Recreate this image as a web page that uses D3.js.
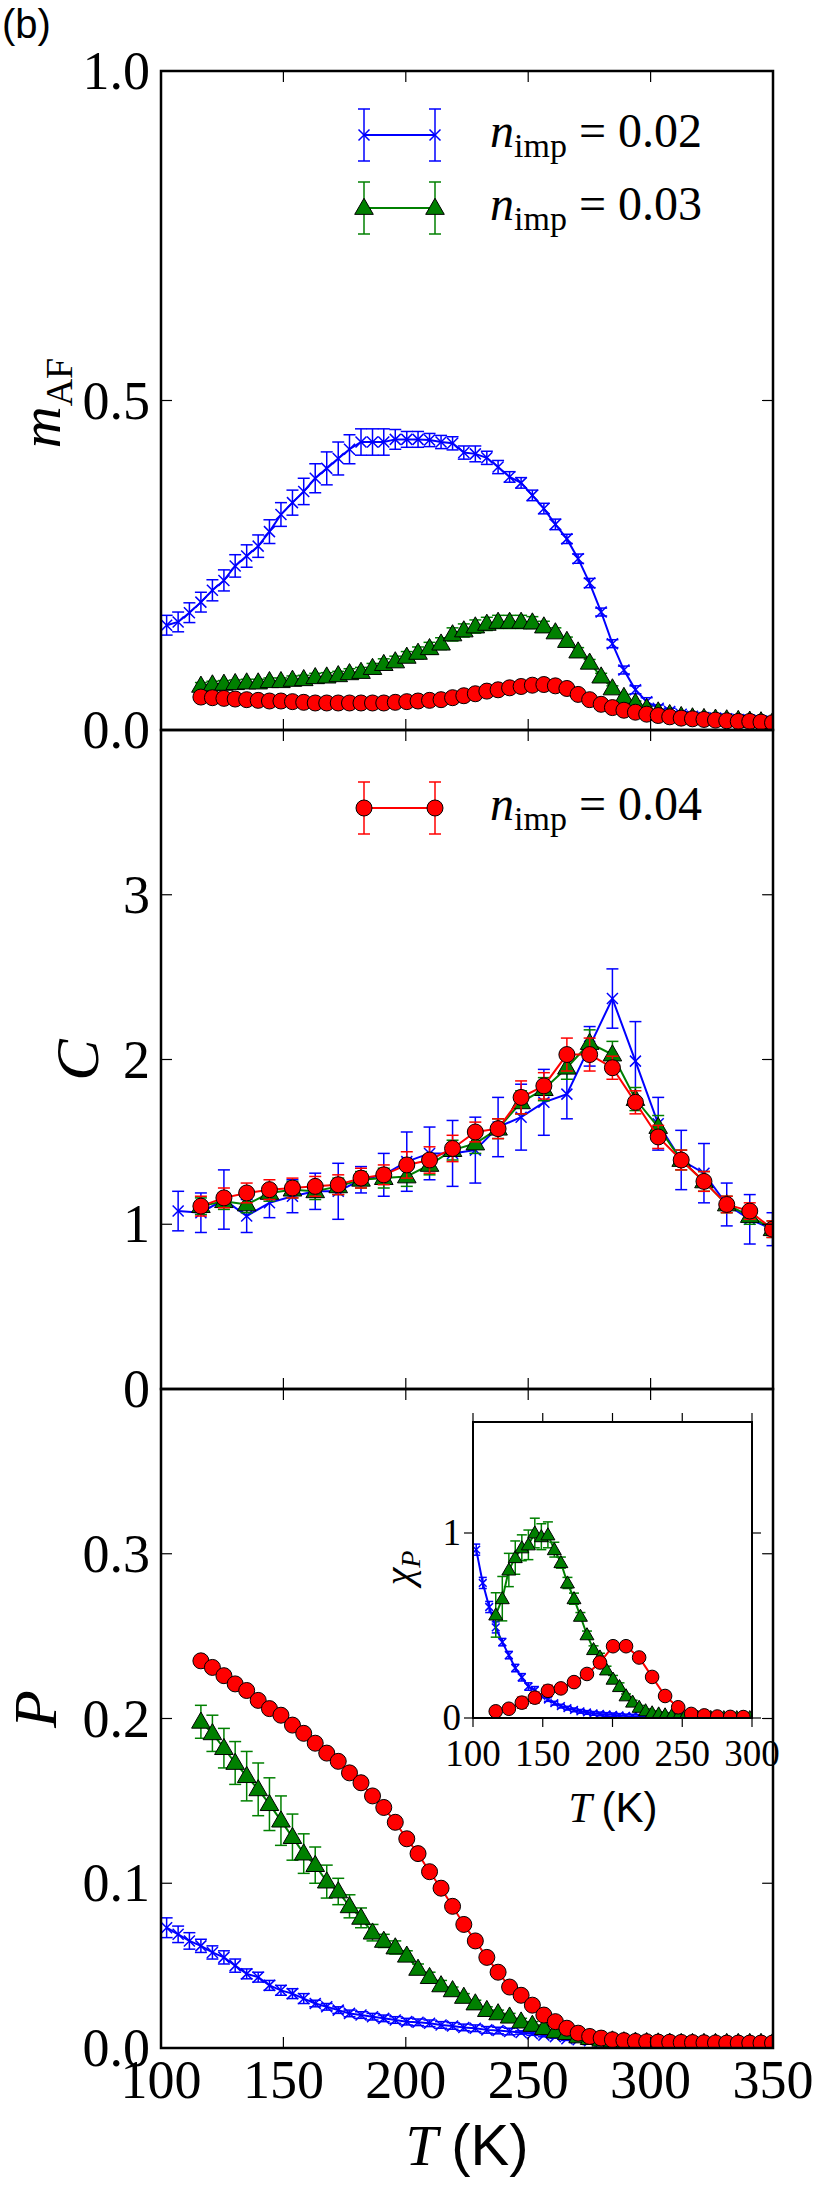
<!DOCTYPE html>
<html>
<head>
<meta charset="utf-8">
<script src="https://cdn.jsdelivr.net/npm/d3@7"></script>
<style>
  body { margin: 0; background: #fff; }
  text { font-family: "Liberation Serif", serif; }
</style>
</head>
<body>
<div class="chart"></div>
<script>
// temperatures (K)
var tGrid = [102.3,107.0,111.6,116.3,121.0,125.7,130.3,135.0,139.7,144.3,149.0,153.7,158.3,163.0,167.7,172.4,177.0,181.7,186.4,191.0,195.7,200.4,205.0,209.7,214.4,219.1,223.7,228.4,233.1,237.7,242.4,247.1,251.7,256.4,261.1,265.8,270.4,275.1,279.8,284.4,289.1,293.8,298.4,303.1,307.8,312.5,317.1,321.8,326.5,331.1,335.8,340.5,345.1,349.8];
var tC = [107.0,116.3,125.7,135.0,144.3,153.7,163.0,172.4,181.7,191.0,200.4,209.7,219.1,228.4,237.7,247.1,256.4,265.8,275.1,284.4,293.8,303.1,312.5,321.8,331.1,340.5,349.8];

// m_AF
var mBlue = [0.159,0.164,0.178,0.194,0.212,0.227,0.249,0.264,0.279,0.301,0.327,0.345,0.362,0.382,0.397,0.412,0.426,0.437,0.437,0.437,0.441,0.441,0.441,0.440,0.437,0.435,0.421,0.419,0.413,0.399,0.384,0.375,0.356,0.336,0.312,0.290,0.260,0.223,0.179,0.131,0.091,0.061,0.043,0.033,0.028,0.024,0.021,0.019,0.018,0.017,0.016,0.015,0.014,0.013];
var mBlueErr = [0.015,0.015,0.015,0.015,0.016,0.016,0.017,0.017,0.017,0.018,0.018,0.019,0.02,0.022,0.025,0.025,0.022,0.02,0.02,0.02,0.015,0.012,0.012,0.01,0.01,0.01,0.01,0.012,0.01,0.01,0.008,0.008,0.008,0.008,0.008,0.007,0.007,0.007,0.006,0.006,0.006,0.006,0.006,0.005,0.005,0.004,0.004,0.003,0.003,0.003,0.003,0.003,0.003,0.003];
var mGreen = [0.067,0.069,0.070,0.071,0.072,0.072,0.074,0.074,0.076,0.077,0.080,0.081,0.083,0.086,0.088,0.094,0.100,0.104,0.111,0.117,0.124,0.131,0.145,0.151,0.157,0.161,0.164,0.164,0.164,0.163,0.157,0.148,0.135,0.119,0.102,0.081,0.063,0.050,0.041,0.033,0.028,0.024,0.021,0.019,0.018,0.017,0.016,0.015,0.014,0.013,0.012];
var mGreenErr = [0.005,0.005,0.005,0.005,0.005,0.005,0.005,0.005,0.006,0.006,0.006,0.006,0.006,0.007,0.007,0.007,0.008,0.008,0.008,0.009,0.009,0.009,0.01,0.01,0.01,0.01,0.01,0.01,0.01,0.009,0.008,0.007,0.006,0.006,0.005,0.005,0.004,0.004,0.003,0.003,0.003,0.003,0.003,0.003,0.003,0.002,0.002,0.002,0.002,0.002,0.002];
var mRed = [0.050,0.049,0.048,0.047,0.046,0.045,0.044,0.044,0.043,0.042,0.041,0.041,0.041,0.041,0.041,0.041,0.041,0.042,0.043,0.044,0.045,0.046,0.049,0.052,0.055,0.059,0.061,0.064,0.066,0.068,0.069,0.067,0.063,0.054,0.046,0.039,0.034,0.030,0.027,0.024,0.022,0.020,0.018,0.017,0.016,0.015,0.014,0.013,0.013,0.012,0.011];
var mRedErr = [0.003,0.003,0.003,0.003,0.003,0.003,0.003,0.003,0.003,0.003,0.003,0.003,0.003,0.003,0.003,0.003,0.003,0.003,0.003,0.003,0.003,0.003,0.003,0.003,0.003,0.003,0.003,0.003,0.003,0.003,0.003,0.003,0.003,0.003,0.003,0.003,0.003,0.003,0.003,0.003,0.003,0.003,0.003,0.003,0.003,0.003,0.003,0.003,0.003,0.003,0.003];

// C
var cBlue = [1.08,1.07,1.15,1.05,1.13,1.17,1.20,1.20,1.27,1.30,1.38,1.43,1.43,1.45,1.59,1.65,1.74,1.79,2.08,2.37,1.99,1.61,1.39,1.31,1.12,1.03,0.97];
var cBlueErr = [0.12,0.12,0.18,0.10,0.09,0.10,0.11,0.17,0.08,0.13,0.18,0.16,0.20,0.20,0.18,0.20,0.20,0.15,0.12,0.18,0.24,0.16,0.18,0.18,0.13,0.15,0.10];
var cGreen = [1.11,1.14,1.12,1.19,1.21,1.20,1.23,1.27,1.28,1.29,1.36,1.45,1.49,1.58,1.74,1.82,1.95,2.10,2.03,1.76,1.59,1.39,1.26,1.12,1.05,0.97];
var cGreenErr = [0.05,0.05,0.05,0.05,0.05,0.05,0.05,0.05,0.06,0.06,0.06,0.06,0.06,0.06,0.07,0.07,0.07,0.08,0.08,0.07,0.07,0.06,0.06,0.05,0.05,0.05];
var cRed = [1.11,1.16,1.19,1.21,1.22,1.23,1.24,1.28,1.30,1.36,1.39,1.46,1.56,1.58,1.77,1.84,2.03,2.03,1.95,1.74,1.53,1.39,1.26,1.12,1.08,0.97];
var cRedErr = [0.06,0.06,0.06,0.06,0.06,0.06,0.06,0.06,0.06,0.08,0.08,0.08,0.06,0.06,0.1,0.08,0.1,0.1,0.07,0.07,0.07,0.06,0.06,0.05,0.05,0.05];

// P
var pBlue = [0.073,0.069,0.065,0.062,0.058,0.055,0.050,0.045,0.043,0.038,0.035,0.033,0.030,0.027,0.025,0.023,0.021,0.020,0.019,0.018,0.017,0.016,0.0156,0.015,0.014,0.0134,0.0125,0.012,0.011,0.0106,0.010,0.0094,0.0087,0.0078,0.0069,0.0056,0.005,0.0044,0.004,0.004,0.0038,0.0036,0.0035,0.0034,0.0033,0.0032,0.0031,0.003,0.003,0.003,0.003,0.003,0.003,0.003];
var pBlueErr = [0.006,0.005,0.005,0.004,0.004,0.004,0.004,0.003,0.003,0.003,0.003,0.003,0.003,0.002,0.002,0.002,0.002,0.002,0.002,0.002,0.002,0.002,0.002,0.002,0.002,0.002,0.002,0.002,0.002,0.002,0.002,0.001,0.001,0.001,0.001,0.001,0.001,0.001,0.001,0.001,0.001,0.001,0.001,0.001,0.001,0.001,0.001,0.001,0.001,0.001,0.001,0.001,0.001,0.001];
var pGreen = [0.198,0.191,0.182,0.173,0.165,0.157,0.148,0.138,0.128,0.118,0.111,0.101,0.095,0.086,0.079,0.070,0.065,0.061,0.056,0.048,0.043,0.038,0.035,0.031,0.027,0.023,0.021,0.019,0.016,0.014,0.012,0.010,0.009,0.007,0.006,0.005,0.0045,0.004,0.0038,0.0035,0.0033,0.0032,0.003,0.003,0.003,0.003,0.003,0.003,0.003,0.003,0.003];
var pGreenErr = [0.010,0.011,0.012,0.013,0.015,0.016,0.016,0.015,0.014,0.012,0.011,0.010,0.008,0.007,0.006,0.005,0.004,0.004,0.003,0.003,0.003,0.003,0.002,0.002,0.002,0.002,0.002,0.002,0.002,0.002,0.002,0.001,0.001,0.001,0.001,0.001,0.001,0.001,0.001,0.001,0.001,0.001,0.001,0.001,0.001,0.001,0.001,0.001,0.001,0.001,0.001];
var pRed = [0.235,0.231,0.226,0.221,0.217,0.211,0.206,0.202,0.196,0.191,0.185,0.179,0.174,0.167,0.161,0.153,0.146,0.137,0.127,0.118,0.107,0.097,0.086,0.075,0.065,0.055,0.046,0.037,0.032,0.026,0.020,0.016,0.012,0.009,0.007,0.006,0.005,0.0045,0.004,0.0038,0.0036,0.0035,0.0034,0.0033,0.0032,0.0031,0.003,0.003,0.003,0.003,0.003];
var pRedErr = [0.002,0.002,0.002,0.002,0.002,0.002,0.002,0.002,0.002,0.002,0.002,0.002,0.002,0.002,0.002,0.002,0.002,0.003,0.003,0.003,0.003,0.003,0.003,0.003,0.003,0.003,0.002,0.002,0.002,0.002,0.002,0.002,0.001,0.001,0.001,0.001,0.001,0.001,0.001,0.001,0.001,0.001,0.001,0.001,0.001,0.001,0.001,0.001,0.001,0.001,0.001];

// chi_P (inset)
var xBlue = [0.91,0.73,0.60,0.49,0.41,0.34,0.27,0.22,0.17,0.15,0.12,0.10,0.08,0.064,0.053,0.044,0.036,0.030,0.025,0.022,0.019,0.017,0.014,0.011,0.010,0.009,0.008,0.008,0.007,0.007,0.006,0.006,0.005,0.005,0.005,0.004,0.004,0.004,0.004,0.003,0.003,0.003,0.003];
var xBlueErr = [0.03,0.03,0.03,0.03,0.02,0.02,0.02,0.02,0.02,0.02,0.01,0.01,0.01,0.01,0.01,0.01,0.01,0.01,0.01,0.01,0.01,0.01,0.01,0.01,0.01,0.01,0.01,0.01,0.01,0.01,0.01,0.01,0.01,0.01,0.01,0.01,0.01,0.01,0.01,0.01,0.01,0.01,0.01];
var xGreen = [0.557,0.645,0.80,0.867,0.92,0.936,1.0,0.98,0.99,0.91,0.84,0.73,0.645,0.55,0.45,0.37,0.33,0.26,0.21,0.17,0.12,0.086,0.058,0.039,0.028,0.022,0.017,0.012,0.009,0.007,0.005,0.004,0.003,0.003,0.002,0.002,0.002,0.002,0.002,0.002];
var xGreenErr = [0.12,0.12,0.09,0.09,0.07,0.08,0.08,0.07,0.07,0.04,0.03,0.03,0.03,0.02,0.02,0.02,0.02,0.02,0.02,0.02,0.01,0.01,0.01,0.01,0.01,0.01,0.01,0.01,0.01,0.01,0.01,0.01,0.01,0.01,0.01,0.01,0.01,0.01,0.01,0.01];
var xRed = [0.036,0.05,0.083,0.11,0.147,0.16,0.194,0.238,0.30,0.388,0.388,0.327,0.222,0.119,0.058,0.022,0.014,0.008,0.006,0.005];
var xRedErr = [0.02,0.02,0.03,0.03,0.03,0.02,0.02,0.02,0.02,0.02,0.02,0.02,0.02,0.02,0.02,0.01,0.01,0.01,0.01,0.01];

var W = 830, H = 2195;
var L = 161, R = 773;
var panels = [
  { top: 71, bot: 730, dom: [0, 1], ticks: [0, 0.5, 1.0], fmt: d3.format(".1f"), id: "p1" },
  { top: 730, bot: 1389, dom: [0, 4], ticks: [0, 1, 2, 3], fmt: d3.format("d"), id: "p2" },
  { top: 1389, bot: 2048, dom: [0, 0.4], ticks: [0, 0.1, 0.2, 0.3], fmt: d3.format(".1f"), id: "p3" }
];

var svg = d3.select(".chart").append("svg").attr("width", W).attr("height", H);
var defs = svg.append("defs");

var styles = {
  blue: { color: "#0000ff", marker: "x" },
  green: { color: "#008000", marker: "tri" },
  red: { color: "#ff0000", marker: "circle" }
};

function marker(g, type, color, cx, cy, s) {
  s = s || 1;
  if (type === "x") {
    var a = 5.5 * s;
    g.append("path").attr("d", "M" + (cx - a) + "," + (cy - a) + "L" + (cx + a) + "," + (cy + a) + "M" + (cx - a) + "," + (cy + a) + "L" + (cx + a) + "," + (cy - a))
      .attr("stroke", color).attr("stroke-width", 1.5).attr("fill", "none");
  } else if (type === "tri") {
    g.append("path").attr("d", d3.symbol(d3.symbolTriangle, 150 * s * s)())
      .attr("transform", "translate(" + cx + "," + (cy + 1) + ")")
      .attr("fill", color).attr("stroke", "#000").attr("stroke-width", 1);
  } else {
    g.append("circle").attr("cx", cx).attr("cy", cy).attr("r", 8 * s)
      .attr("fill", color).attr("stroke", "#000").attr("stroke-width", 1);
  }
}

function series(g, x, y, T, V, E, st, s, cap) {
  s = s || 1; cap = cap || 6;
  var c = styles[st].color;
  T.forEach(function(t, i) {
    var px = x(t);
    g.append("line").attr("x1", px).attr("x2", px).attr("y1", y(V[i] - E[i])).attr("y2", y(V[i] + E[i]))
      .attr("stroke", c).attr("stroke-width", 1.5);
    [V[i] - E[i], V[i] + E[i]].forEach(function(v) {
      g.append("line").attr("x1", px - cap).attr("x2", px + cap).attr("y1", y(v)).attr("y2", y(v))
        .attr("stroke", c).attr("stroke-width", 1.5);
    });
  });
  g.append("path").datum(T.map(function(t, i) { return [t, V[i]]; }))
    .attr("d", d3.line().x(function(d) { return x(d[0]); }).y(function(d) { return y(d[1]); }))
    .attr("fill", "none").attr("stroke", c).attr("stroke-width", 2);
  T.forEach(function(t, i) { marker(g, styles[st].marker, c, x(t), y(V[i]), s); });
}

var x = d3.scaleLinear().domain([100, 350]).range([L, R]);
var xTicks = [100, 150, 200, 250, 300, 350];

var ys = panels.map(function(p) {
  var y = d3.scaleLinear().domain(p.dom).range([p.bot, p.top]);
  defs.append("clipPath").attr("id", "clip-" + p.id).append("rect")
    .attr("x", L).attr("y", p.top).attr("width", R - L).attr("height", p.bot - p.top);
  p.g = svg.append("g").attr("clip-path", "url(#clip-" + p.id + ")");
  p.y = y;
  return y;
});

series(panels[0].g, x, ys[0], tGrid, mBlue, mBlueErr, "blue");
series(panels[0].g, x, ys[0], tGrid.slice(3), mGreen, mGreenErr, "green");
series(panels[0].g, x, ys[0], tGrid.slice(3), mRed, mRedErr, "red");
series(panels[1].g, x, ys[1], tC, cBlue, cBlueErr, "blue");
series(panels[1].g, x, ys[1], tC.slice(1), cGreen, cGreenErr, "green");
series(panels[1].g, x, ys[1], tC.slice(1), cRed, cRedErr, "red");
series(panels[2].g, x, ys[2], tGrid, pBlue, pBlueErr, "blue");
series(panels[2].g, x, ys[2], tGrid.slice(3), pGreen, pGreenErr, "green");
series(panels[2].g, x, ys[2], tGrid.slice(3), pRed, pRedErr, "red");

// frames, ticks, labels
panels.forEach(function(p) {
  var y = p.y;
  var ax = svg.append("g");
  xTicks.forEach(function(t) {
    ax.append("line").attr("x1", x(t)).attr("x2", x(t)).attr("y1", p.bot).attr("y2", p.bot - 11).attr("stroke", "#000").attr("stroke-width", 1.2);
    ax.append("line").attr("x1", x(t)).attr("x2", x(t)).attr("y1", p.top).attr("y2", p.top + 11).attr("stroke", "#000").attr("stroke-width", 1.2);
  });
  p.ticks.forEach(function(v) {
    ax.append("line").attr("x1", L).attr("x2", L + 11).attr("y1", y(v)).attr("y2", y(v)).attr("stroke", "#000").attr("stroke-width", 1.2);
    ax.append("line").attr("x1", R).attr("x2", R - 11).attr("y1", y(v)).attr("y2", y(v)).attr("stroke", "#000").attr("stroke-width", 1.2);
    ax.append("text").attr("x", 150).attr("y", y(v) + 18).attr("text-anchor", "end")
      .style("font-size", "54px").text(p.fmt(v));
  });
  ax.append("rect").attr("x", L).attr("y", p.top).attr("width", R - L).attr("height", p.bot - p.top)
    .attr("fill", "none").attr("stroke", "#000").attr("stroke-width", 2.5);
});

xTicks.forEach(function(t) {
  svg.append("text").attr("x", x(t)).attr("y", 2098).attr("text-anchor", "middle")
    .style("font-size", "54px").text(t);
});

function tLabel(g, cx, cy, size) {
  var t = g.append("text").attr("x", cx).attr("y", cy).attr("text-anchor", "middle").style("font-size", size + "px");
  t.append("tspan").style("font-style", "italic").text("T ");
  t.append("tspan").style("font-family", "Liberation Sans, sans-serif").text("(K)");
}
tLabel(svg, 467, 2165, 58);

// y labels
function ylab(cx, cy, size, parts) {
  var t = svg.append("text").attr("transform", "translate(" + cx + "," + cy + ") rotate(-90)")
    .attr("text-anchor", "middle").style("font-size", size + "px");
  parts(t);
}
ylab(60, 403, 58, function(t) {
  t.append("tspan").style("font-style", "italic").text("m");
  t.append("tspan").attr("dy", 12).style("font-size", "38px").text("AF");
});
ylab(98, 1060, 62, function(t) { t.append("tspan").style("font-style", "italic").text("C"); });
ylab(56, 1709, 62, function(t) { t.append("tspan").style("font-style", "italic").text("P"); });

svg.append("text").attr("x", 2).attr("y", 38).style("font-family", "Liberation Sans, sans-serif")
  .style("font-size", "40px").text("(b)");

// legends
function legendEntry(y0, st) {
  var c = styles[st].color;
  var g = svg.append("g");
  g.append("line").attr("x1", 364).attr("x2", 435).attr("y1", y0).attr("y2", y0).attr("stroke", c).attr("stroke-width", 2);
  [364, 435].forEach(function(px) {
    g.append("line").attr("x1", px).attr("x2", px).attr("y1", y0 - 26).attr("y2", y0 + 26).attr("stroke", c).attr("stroke-width", 1.5);
    [y0 - 26, y0 + 26].forEach(function(py) {
      g.append("line").attr("x1", px - 6).attr("x2", px + 6).attr("y1", py).attr("y2", py).attr("stroke", c).attr("stroke-width", 1.5);
    });
    marker(g, styles[st].marker, c, px, y0, 1);
  });
}
function legendText(y0, val) {
  var t = svg.append("text").attr("x", 490).attr("y", y0 + 12).style("font-size", "48px");
  t.append("tspan").style("font-style", "italic").text("n");
  t.append("tspan").attr("dy", 10).style("font-size", "34px").text("imp");
  t.append("tspan").attr("dy", -10).text(" = " + val);
}
legendEntry(135, "blue"); legendText(135, "0.02");
legendEntry(208, "green"); legendText(208, "0.03");
legendEntry(808, "red"); legendText(808, "0.04");

// inset
var iL = 473, iR = 752, iT = 1422, iB = 1718;
var xi = d3.scaleLinear().domain([100, 300]).range([iL, iR]);
var yi = d3.scaleLinear().domain([0, 1.6]).range([iB, iT]);
svg.append("rect").attr("x", iL).attr("y", iT).attr("width", iR - iL).attr("height", iB - iT).attr("fill", "#fff");
defs.append("clipPath").attr("id", "clip-in").append("rect").attr("x", iL).attr("y", iT).attr("width", iR - iL).attr("height", iB - iT);
var ig = svg.append("g").attr("clip-path", "url(#clip-in)");
series(ig, xi, yi, tGrid.slice(0, 43), xBlue, xBlueErr, "blue", 0.7, 4);
series(ig, xi, yi, tGrid.slice(3, 43), xGreen, xGreenErr, "green", 0.75, 5);
series(ig, xi, yi, tC.slice(1, 21), xRed, xRedErr, "red", 0.85, 5);
var ia = svg.append("g");
[100, 150, 200, 250, 300].forEach(function(t) {
  ia.append("line").attr("x1", xi(t)).attr("x2", xi(t)).attr("y1", iB).attr("y2", iB + 9).attr("stroke", "#000").attr("stroke-width", 1.2);
  ia.append("line").attr("x1", xi(t)).attr("x2", xi(t)).attr("y1", iT).attr("y2", iT - 9).attr("stroke", "#000").attr("stroke-width", 1.2);
  ia.append("text").attr("x", xi(t)).attr("y", 1766).attr("text-anchor", "middle").style("font-size", "37px").text(t);
});
[0, 1].forEach(function(v) {
  ia.append("line").attr("x1", iL).attr("x2", iL - 9).attr("y1", yi(v)).attr("y2", yi(v)).attr("stroke", "#000").attr("stroke-width", 1.2);
  ia.append("line").attr("x1", iR).attr("x2", iR + 9).attr("y1", yi(v)).attr("y2", yi(v)).attr("stroke", "#000").attr("stroke-width", 1.2);
  ia.append("text").attr("x", iL - 12).attr("y", yi(v) + 12).attr("text-anchor", "end").style("font-size", "37px").text(v);
});
ia.append("rect").attr("x", iL).attr("y", iT).attr("width", iR - iL).attr("height", iB - iT)
  .attr("fill", "none").attr("stroke", "#000").attr("stroke-width", 2);
tLabel(svg, 613, 1822, 42);
var chi = svg.append("text").attr("transform", "translate(412,1568) rotate(-90)").attr("text-anchor", "middle").style("font-size", "40px");
chi.append("tspan").style("font-style", "italic").text("χ");
chi.append("tspan").attr("dy", 8).style("font-style", "italic").style("font-size", "28px").text("P");
</script>
</body>
</html>
